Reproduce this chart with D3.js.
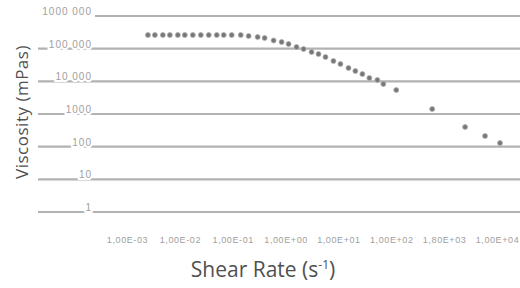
<!DOCTYPE html>
<html>
<head>
<meta charset="utf-8">
<script src="https://cdn.jsdelivr.net/npm/d3@7"></script>
<style>
  body { margin: 0; background: #fff; }
  svg { display: block; }
</style>
</head>
<body>
<svg></svg>
<script>
// shear rate (1/s) and viscosity (mPas)
var shearRate = [0.00249, 0.00337, 0.00477, 0.00647, 0.00916, 0.0124, 0.0176, 0.0249,
                 0.0352, 0.0499, 0.0676, 0.0957, 0.142, 0.200, 0.296, 0.402, 0.594,
                 0.841, 1.14, 1.61, 2.19, 3.10, 4.20, 5.69, 8.05, 10.9, 15.5, 20.9,
                 28.4, 38.5, 54.5, 70.7, 124, 594, 2490, 5940, 11400];
var viscosity = [262000, 262000, 262000, 262000, 262000, 262000, 262000, 262000,
                 262000, 262000, 262000, 262000, 262000, 244000, 227000, 212000, 178000,
                 160000, 139000, 112000, 97500, 78900, 68500, 55500, 41900, 33900, 25600, 20700,
                 16700, 12600, 11000, 8280, 5420, 1420, 400, 212, 129];
var yTicks = [1, 10, 100, 1000, 10000, 100000, 1000000];
var yTickLabels = ["1", "10", "100", "1000", "10 000", "100 000", "1000 000"];
var xTicks = [1e-3, 1e-2, 1e-1, 1e0, 1e1, 1e2, 1e3, 1e4];
var xTickLabels = ["1,00E-03", "1,00E-02", "1,00E-01", "1,00E+00", "1,00E+01", "1,00E+02", "1,80E+03", "1,00E+04"];

var svgWidth = 520, svgHeight = 288;

var svg = d3.select("svg")
    .attr("width", svgWidth)
    .attr("height", svgHeight);

// scales
var xScale = d3.scaleLog()
    .domain([1e-3, 1e4])
    .range([127, 497]);

var yScale = d3.scaleLog()
    .domain([1, 1e6])
    .range([212, 16]);

// gridlines
svg.selectAll("line.grid")
    .data(yTicks)
    .enter()
    .append("line")
    .attr("class", "grid")
    .attr("x1", function(d) { return d === 1e6 ? 95 : 38; })
    .attr("x2", svgWidth)
    .attr("y1", function(d) { return yScale(d); })
    .attr("y2", function(d) { return yScale(d); })
    .attr("stroke", "#b2b2b2")
    .attr("stroke-width", 2.2);

// y tick labels
svg.selectAll("text.ylab")
    .data(yTicks)
    .enter()
    .append("text")
    .attr("class", "ylab")
    .attr("x", 92)
    .attr("y", function(d) { return yScale(d) - 1; })
    .attr("text-anchor", "end")
    .attr("font-family", "Arial, 'Liberation Sans', sans-serif")
    .attr("font-size", 10)
    .attr("letter-spacing", 1)
    .attr("fill", "#a0a0a0")
    .attr("stroke", "#fff")
    .attr("stroke-width", 4)
    .attr("paint-order", "stroke")
    .text(function(d, i) { return yTickLabels[i]; });

// x axis labels
var xAxis = d3.axisBottom(xScale)
    .tickValues(xTicks)
    .tickSize(0)
    .tickFormat(function(d, i) { return xTickLabels[i]; });

var gx = svg.append("g")
    .attr("transform", "translate(0, 234)")
    .call(xAxis);
gx.select(".domain").remove();
gx.selectAll("text")
    .attr("font-family", "Arial, 'Liberation Sans', sans-serif")
    .attr("font-size", 9)
    .attr("letter-spacing", 0.6)
    .attr("fill", "#a0a0a0");

// data points
svg.selectAll("circle.pt")
    .data(shearRate)
    .enter()
    .append("circle")
    .attr("class", "pt")
    .attr("cx", function(d) { return xScale(d); })
    .attr("cy", function(d, i) { return yScale(viscosity[i]); })
    .attr("r", 2.5)
    .attr("fill", "#777")
    .attr("stroke", "#b0b0b0")
    .attr("stroke-width", 0.8);

// axis titles
svg.append("text")
    .attr("transform", "translate(28, 112) rotate(-90)")
    .attr("text-anchor", "middle")
    .attr("font-family", "'Open Sans', Lato, sans-serif")
    .attr("font-size", 17)
    .attr("letter-spacing", 0.5)
    .attr("fill", "#505050")
    .text("Viscosity (mPas)");

var xt = svg.append("text")
    .attr("x", 263)
    .attr("y", 277)
    .attr("text-anchor", "middle")
    .attr("font-family", "'Open Sans', Lato, sans-serif")
    .attr("font-size", 21)
    .attr("fill", "#505050")
    .text("Shear Rate (s");
xt.append("tspan")
    .attr("baseline-shift", "super")
    .attr("font-size", 12)
    .text("-1");
xt.append("tspan").text(")");
</script>
</body>
</html>
